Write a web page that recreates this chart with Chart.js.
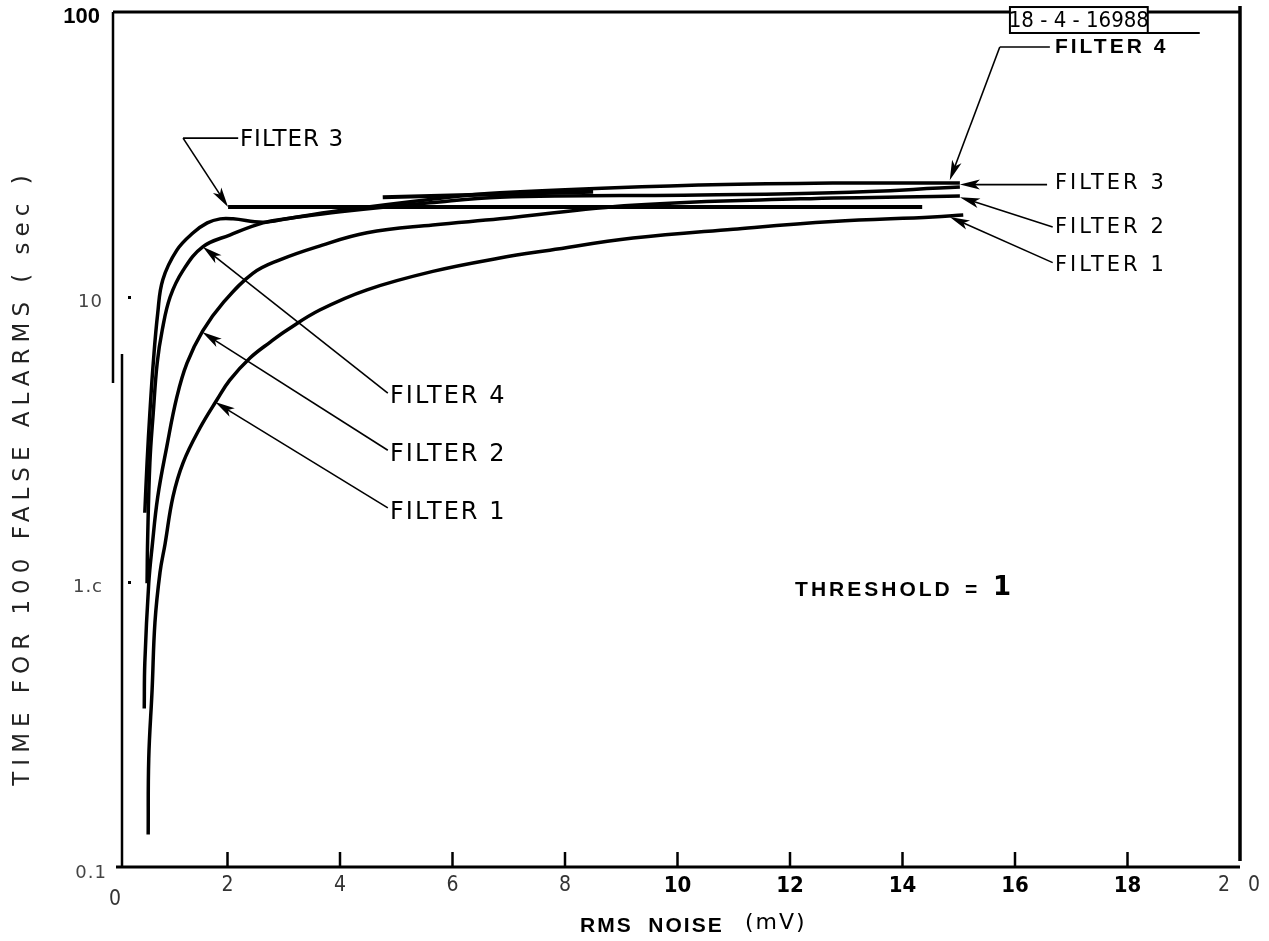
<!DOCTYPE html>
<html>
<head>
<meta charset="utf-8">
<script src="https://cdn.jsdelivr.net/npm/chart.js@4/dist/chart.umd.min.js"></script>
<style>
  html, body { margin: 0; padding: 0; background: #fff; }
</style>
</head>
<body>
<canvas id="myChart" width="1269" height="941"></canvas>
<script>
// x axis: RMS noise (mV), y axis: time for 100 false alarms (sec), log scale
const xTicks = [2, 4, 6, 8, 10, 12, 14, 16, 18];
const xTickLabels = ["2", "4", "6", "8", "10", "12", "14", "16", "18"];
const yTicks = [100, 10, 1, 0.1];
const yTickLabels = ["100", "10", "1.c", "0.1"];

// curves
const filter1X = [0.59, 0.60, 0.66, 0.71, 0.80, 0.89, 1.03, 1.21, 1.51, 1.81, 2.04, 2.40, 2.76, 3.06, 3.64, 4.48, 5.65, 6.84, 7.73, 9.21, 10.99, 12.76, 14.54, 15.08];
const filter1Y = [0.13, 0.24, 0.42, 0.72, 1.08, 1.36, 1.99, 2.62, 3.47, 4.35, 5.11, 6.11, 6.95, 7.66, 9.0, 10.6, 12.3, 13.7, 14.6, 16.1, 17.3, 18.4, 19.1, 19.4];

const filter2X = [0.52, 0.53, 0.60, 0.66, 0.76, 0.92, 1.10, 1.28, 1.56, 1.92, 2.45, 2.93, 3.59, 4.48, 5.65, 6.84, 9.20, 12.18, 15.02];
const filter2Y = [0.36, 0.52, 0.99, 1.33, 1.99, 2.98, 4.46, 5.86, 7.6, 9.53, 12.1, 13.5, 15.0, 16.8, 17.9, 18.8, 21.0, 22.1, 22.6];

const filter3X = [0.53, 0.57, 0.62, 0.68, 0.76, 0.85, 1.10, 1.39, 1.64, 1.87, 2.10, 2.63, 3.11, 4.00, 5.60, 6.84, 10.40, 12.76, 15.02];
const filter3Y = [1.75, 2.62, 3.92, 5.86, 8.79, 11.5, 14.6, 16.8, 18.2, 18.8, 18.8, 18.3, 18.9, 19.9, 21.4, 22.4, 22.8, 23.2, 24.3];

const filter4X = [0.57, 0.58, 0.62, 0.68, 0.75, 0.84, 0.98, 1.21, 1.56, 2.04, 2.63, 3.11, 4.00, 5.60, 6.84, 10.40, 12.76, 15.02];
const filter4Y = [0.99, 1.40, 2.62, 3.92, 5.86, 7.66, 10.0, 12.4, 15.0, 16.5, 18.2, 18.9, 20.1, 22.0, 23.2, 24.7, 25.1, 25.1];

// straight ruled lines drawn on the original
const guide1X = [2.01, 14.35];
const guide1Y = [20.7, 20.7];
const guide2X = [4.76, 8.5];
const guide2Y = [22.4, 23.4];

// annotations, in data units
const leftNotes = [
  { text: "FILTER 4", at: [4.89, 4.46], path: [[4.85, 4.60]], tip: [1.56, 15.0] },
  { text: "FILTER 2", at: [4.89, 2.79], path: [[4.85, 2.90]], tip: [1.55, 7.53] },
  { text: "FILTER 1", at: [4.89, 1.75], path: [[4.85, 1.82]], tip: [1.78, 4.28] }
];
const topNote = { text: "FILTER 3", at: [2.22, 35.6], path: [[2.19, 36.1], [1.21, 36.1]], tip: [2.01, 20.7] };
const rightNotes = [
  { text: "FILTER 4", bold: true, at: [16.71, 75.4], path: [[16.62, 75.4], [15.73, 75.4]], tip: [14.84, 25.7] },
  { text: "FILTER 3", at: [16.71, 25.1], path: [[16.57, 24.8]], tip: [15.02, 24.8] },
  { text: "FILTER 2", at: [16.71, 17.5], path: [[16.67, 17.6]], tip: [15.02, 22.4] },
  { text: "FILTER 1", at: [16.71, 12.85], path: [[16.67, 13.2]], tip: [14.84, 19.1] }
];

function pts(xs, ys) {
  return xs.map((x, i) => ({ x: x, y: ys[i] }));
}

const HAND = '"DejaVu Sans", "Open Sans", sans-serif';
const NARROW = '"Liberation Sans Narrow", "DejaVu Sans Condensed", "Liberation Sans", sans-serif';
const BOLD = '"Liberation Sans", Arial, sans-serif';

function arrow(ctx, x1, y1, x2, y2) {
  const a = Math.atan2(y2 - y1, x2 - x1);
  const len = 20, half = 5;
  const c = Math.cos(a), s = Math.sin(a);
  ctx.beginPath();
  ctx.moveTo(x1, y1);
  ctx.lineTo(x2 - c * len * 0.6, y2 - s * len * 0.6);
  ctx.stroke();
  ctx.beginPath();
  ctx.moveTo(x2, y2);
  ctx.lineTo(x2 - c * len - s * half, y2 - s * len + c * half);
  ctx.lineTo(x2 - c * len * 0.75, y2 - s * len * 0.75);
  ctx.lineTo(x2 - c * len + s * half, y2 - s * len - c * half);
  ctx.closePath();
  ctx.fill();
}

function callout(ctx, px, n) {
  const t = px(n.at);
  ctx.fillText(n.text, t[0], t[1]);
  const p = n.path.map(px);
  ctx.beginPath();
  ctx.moveTo(p[0][0], p[0][1]);
  p.forEach(q => ctx.lineTo(q[0], q[1]));
  ctx.stroke();
  const last = p[p.length - 1], tip = px(n.tip);
  arrow(ctx, last[0], last[1], tip[0], tip[1]);
}

const paperPlugin = {
  id: "paper",
  afterDraw(chart) {
    const ctx = chart.ctx;
    const xs = chart.scales.x, ys = chart.scales.y;
    const a = chart.chartArea;
    const px = v => [xs.getPixelForValue(v[0]), ys.getPixelForValue(v[1])];
    ctx.save();
    ctx.strokeStyle = "#000";
    ctx.fillStyle = "#000";
    ctx.lineCap = "butt";

    // frame (the left edge is broken in two pieces on the scan)
    ctx.lineWidth = 3;
    ctx.beginPath();
    ctx.moveTo(a.left - 2, a.top); ctx.lineTo(a.right, a.top);
    ctx.moveTo(a.left + 1, a.bottom); ctx.lineTo(a.right, a.bottom);
    ctx.stroke();
    ctx.lineWidth = 3.5;
    ctx.beginPath();
    ctx.moveTo(a.right, a.top - 6); ctx.lineTo(a.right, a.bottom - 6);
    ctx.stroke();
    ctx.lineWidth = 2.5;
    ctx.beginPath();
    ctx.moveTo(a.left - 2, a.top); ctx.lineTo(a.left - 2, a.top + (a.bottom - a.top) * 0.434);
    ctx.moveTo(a.left + 7, a.top + (a.bottom - a.top) * 0.40); ctx.lineTo(a.left + 7, a.bottom);
    ctx.stroke();

    // x tick marks point up into the plot
    ctx.lineWidth = 2.5;
    xTicks.forEach(v => {
      const x = xs.getPixelForValue(v);
      ctx.beginPath();
      ctx.moveTo(x, a.bottom); ctx.lineTo(x, a.bottom - 15);
      ctx.stroke();
    });
    // small y marks
    [10, 1].forEach(v => {
      const y = ys.getPixelForValue(v);
      ctx.fillRect(a.left + 13, y - 1, 3, 3);
    });

    // x tick labels
    ctx.textBaseline = "middle";
    ctx.textAlign = "center";
    xTicks.forEach((v, i) => {
      const x = xs.getPixelForValue(v);
      ctx.font = v < 10 ? "21px " + NARROW : "bold 22px " + NARROW;
      ctx.fillStyle = v < 10 ? "#333" : "#000";
      ctx.fillText(xTickLabels[i], x, a.bottom + 19);
    });
    ctx.fillStyle = "#333";
    ctx.font = "21px " + NARROW;
    ctx.fillText("0", xs.getPixelForValue(0), a.bottom + 33);
    ctx.letterSpacing = "6px";
    ctx.fillText("2 0", xs.getPixelForValue(20) + 2, a.bottom + 19);
    ctx.letterSpacing = "0px";

    // y tick labels
    ctx.textAlign = "right";
    yTicks.forEach((v, i) => {
      const y = ys.getPixelForValue(v);
      if (v === 100) {
        ctx.font = "bold 22px " + BOLD;
        ctx.fillStyle = "#000";
        ctx.fillText(yTickLabels[i], a.left - 15, y + 5);
      } else {
        ctx.font = "18px " + HAND;
        ctx.fillStyle = "#444";
        ctx.letterSpacing = "1px";
        ctx.fillText(yTickLabels[i], a.left - (v === 0.1 ? 8 : 12), y + (v === 0.1 ? 6 : 5));
        ctx.letterSpacing = "0px";
      }
    });

    // axis titles
    ctx.fillStyle = "#222";
    ctx.save();
    ctx.translate(23, (a.top + a.bottom) / 2 + 38);
    ctx.rotate(-Math.PI / 2);
    ctx.textAlign = "center";
    ctx.font = "23px " + HAND;
    ctx.letterSpacing = "6px";
    ctx.fillText("TIME FOR 100 FALSE ALARMS ( sec )", 0, 0);
    ctx.restore();

    ctx.fillStyle = "#000";
    ctx.textAlign = "left";
    ctx.font = "bold 21px " + BOLD;
    ctx.letterSpacing = "2px";
    ctx.fillText("RMS  NOISE", 580, a.bottom + 59);
    ctx.font = "22px " + HAND;
    ctx.fillText("(mV)", 745, a.bottom + 56);
    ctx.letterSpacing = "0px";

    // threshold note
    const th = px([12.09, 0.937]);
    ctx.font = "bold 21px " + BOLD;
    ctx.letterSpacing = "3px";
    ctx.fillText("THRESHOLD", th[0], th[1]);
    ctx.fillText("=", th[0] + 170, th[1]);
    ctx.font = "bold 26px " + HAND;
    ctx.fillText("1", th[0] + 198, th[1] - 2);
    ctx.letterSpacing = "0px";

    // drawing number box
    const b1 = px([15.91, 104.1]), b2 = px([18.36, 84.4]);
    ctx.fillStyle = "#fff";
    ctx.fillRect(b1[0], b1[1], b2[0] - b1[0], b2[1] - b1[1]);
    ctx.fillStyle = "#000";
    ctx.lineWidth = 2;
    ctx.strokeRect(b1[0], b1[1], b2[0] - b1[0], b2[1] - b1[1]);
    ctx.beginPath();
    ctx.moveTo(b2[0], b2[1]); ctx.lineTo(b2[0] + 52, b2[1]);
    ctx.stroke();
    ctx.textAlign = "center";
    ctx.font = "22px " + NARROW;
    ctx.fillText("18 - 4 - 16988", (b1[0] + b2[0]) / 2, (b1[1] + b2[1]) / 2 + 1);

    // filter callouts
    ctx.textAlign = "left";
    ctx.lineWidth = 1.6;
    ctx.font = "24px " + HAND;
    ctx.letterSpacing = "2px";
    leftNotes.forEach(n => callout(ctx, px, n));
    ctx.font = "23px " + HAND;
    ctx.letterSpacing = "1px";
    callout(ctx, px, topNote);
    rightNotes.forEach(n => {
      ctx.font = n.bold ? "bold 21px " + BOLD : "21px " + HAND;
      ctx.letterSpacing = "3px";
      callout(ctx, px, n);
    });
    ctx.restore();
  }
};

const curve = (label, data) => ({
  label: label,
  data: data,
  borderColor: "#000",
  borderWidth: 3.5,
  pointRadius: 0,
  fill: false,
  tension: 0.4
});
const ruled = (label, data) => ({
  label: label,
  data: data,
  borderColor: "#000",
  borderWidth: 4,
  pointRadius: 0,
  fill: false,
  tension: 0
});

const chart = new Chart(document.getElementById("myChart"), {
  type: "line",
  data: {
    datasets: [
      curve("Filter 1", pts(filter1X, filter1Y)),
      curve("Filter 2", pts(filter2X, filter2Y)),
      curve("Filter 3", pts(filter3X, filter3Y)),
      curve("Filter 4", pts(filter4X, filter4Y)),
      ruled("guide 1", pts(guide1X, guide1Y)),
      ruled("guide 2", pts(guide2X, guide2Y))
    ]
  },
  options: {
    responsive: false,
    animation: false,
    devicePixelRatio: 1,
    layout: { padding: { left: 115, top: 12, right: 29, bottom: 74 } },
    plugins: { legend: { display: false }, tooltip: { enabled: false } },
    scales: {
      x: { type: "linear", min: 0, max: 20, display: false },
      y: { type: "logarithmic", min: 0.1, max: 100, display: false }
    }
  },
  plugins: [paperPlugin]
});
</script>
</body>
</html>
